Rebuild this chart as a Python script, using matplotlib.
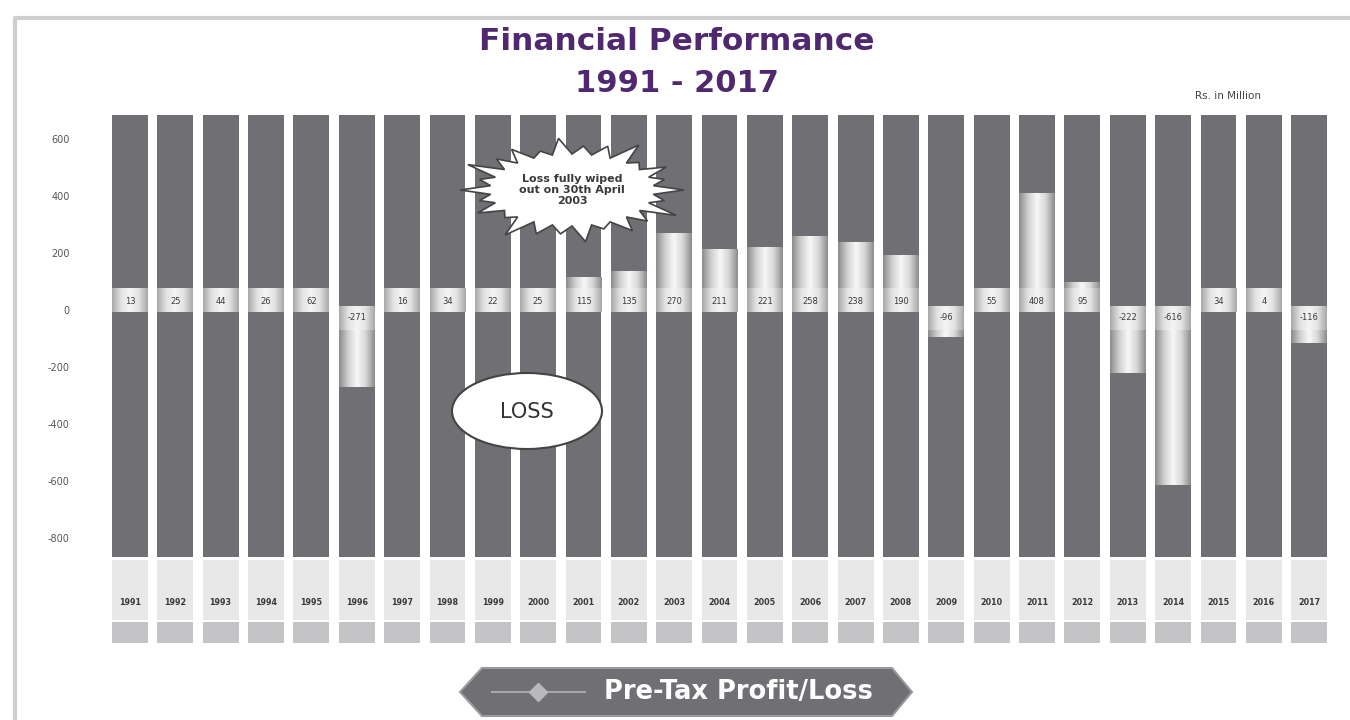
import numpy as np
import matplotlib.pyplot as plt
from matplotlib.colors import LinearSegmentedColormap
from matplotlib.patches import Polygon, Ellipse

years = list(range(1991, 2018))
profit = [13, 25, 44, 26, 62, -271, 16, 34, 22, 25, 115, 135, 270, 211, 221,
          258, 238, 190, -96, 55, 408, 95, -222, -616, 34, 4, -116]
yticks = [600, 400, 200, 0, -200, -400, -600, -800]

dark = '#6f6f74'
purple = '#4f2870'

fig = plt.figure(figsize=(13.5, 7.2), dpi=100)

# main chart axes: one bar per year, y in Rs. million
ax = fig.add_axes([100 / 1350, 1 - 557 / 720, 1240 / 1350, 442 / 720])
x = np.arange(len(years))
w = 0.79

# full dark background columns
ax.bar(x, 684 + 867, bottom=-867, width=w, color=dark, zorder=1)
# year boxes underneath
ax.bar(x, 211, bottom=-1088, width=w, color='#e8e8e8', zorder=1, clip_on=False)
ax.bar(x, 73, bottom=-1168, width=w, color='#c4c4c6', zorder=1, clip_on=False)

silver = LinearSegmentedColormap.from_list(
    'silver', ['#8d8d90', '#cfcfcf', '#f8f8f8', '#d6d6d6', '#8d8d90'])
pale = LinearSegmentedColormap.from_list(
    'pale', ['#a9a9ab', '#e2e2e2', '#f5f5f5', '#e2e2e2', '#a9a9ab'])
grad = np.linspace(0, 1, 64).reshape(1, -1)

for i, v in enumerate(profit):
    ax.imshow(grad, cmap=silver, aspect='auto', zorder=2,
              extent=[i - w / 2, i + w / 2, 0, v])
    if v >= 0:
        lo, hi, ty = -8, 74, 31
    else:
        lo, hi, ty = 10, -72, -28
    ax.imshow(grad, cmap=pale, aspect='auto', zorder=3,
              extent=[i - w / 2, i + w / 2, lo, hi])
    ax.text(i, ty, str(v), ha='center', va='center', fontsize=6,
            color='#3a3a3a', zorder=4)
    ax.text(i, -1028, str(years[i]), ha='center', va='center', fontsize=5.8,
            fontweight='bold', color='#3a3a3a', zorder=4, clip_on=False)

ax.set_xlim(-0.66, 26.68)
ax.set_ylim(-867, 684)
ax.set_yticks(yticks)
ax.set_yticklabels([str(t) for t in yticks])
ax.set_xticks([])
ax.tick_params(axis='y', length=0, pad=22, labelsize=7, labelcolor='#555555')
for s in ax.spines.values():
    s.set_visible(False)

# overlay in pixel coordinates for the decorations
ov = fig.add_axes([0, 0, 1, 1], zorder=5)
ov.set_xlim(0, 1350)
ov.set_ylim(720, 0)
ov.axis('off')
ov.patch.set_visible(False)

ov.plot([15, 15, 1350], [720, 18, 18], color='#cfcfcf', lw=3,
        solid_capstyle='butt')

ov.text(677, 42, 'Financial Performance', ha='center', va='center',
        fontsize=22.5, fontweight='bold', color=purple)
ov.text(677, 83, '1991 - 2017', ha='center', va='center',
        fontsize=22, fontweight='bold', color=purple)
ov.text(1228, 96, 'Rs. in Million', ha='center', va='center',
        fontsize=7.5, color='#444444')

# starburst callout
n = 26
ang = np.linspace(0, 2 * np.pi, 2 * n, endpoint=False)
spike = [1.0, 0.85, 0.95, 0.8, 1.05, 0.9, 0.85, 1.0, 0.8, 0.95, 0.9, 1.05, 0.85,
         1.0, 0.85, 0.95, 0.8, 1.05, 0.9, 0.85, 1.0, 0.8, 0.95, 0.9, 1.05, 0.85]
pts = []
for k, a in enumerate(ang):
    if k % 2 == 0:
        f = spike[k // 2]
        rx, ry = 112 * f, 52 * f
    else:
        rx, ry = 82, 36
    pts.append((572 + rx * np.cos(a), 190 - ry * np.sin(a)))
ov.add_patch(Polygon(pts, closed=True, facecolor='white', edgecolor='#444444',
                     lw=1.2))
ov.text(572, 190, 'Loss fully wiped\nout on 30th April\n2003', ha='center',
        va='center', fontsize=8, fontweight='bold', color='#3a3a3a',
        linespacing=1.1)

# LOSS bubble
ov.add_patch(Ellipse((527, 411), 150, 76, facecolor='white',
                     edgecolor='#444444', lw=1.5))
ov.text(527, 412, 'LOSS', ha='center', va='center', fontsize=15,
        color='#333333')

# legend banner
banner = [(460, 692), (482, 668), (892, 668), (912, 692), (892, 716), (482, 716)]
ov.add_patch(Polygon(banner, closed=True, facecolor=dark, edgecolor='#9a9a9c',
                     lw=1.5))
ov.plot([492, 585], [692, 692], color='#a8a8aa', lw=1.5)
ov.plot([538], [692], marker='D', markersize=9, color='#b9b9bb')
ov.text(738, 692, 'Pre-Tax Profit/Loss', ha='center', va='center',
        fontsize=18.5, fontweight='bold', color='white')

fig.savefig('out.png', dpi=100)
